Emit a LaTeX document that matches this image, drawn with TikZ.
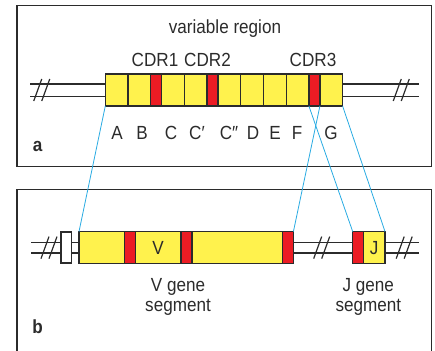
\documentclass[tikz,border=0pt]{standalone}
\usepackage{fontspec}
\setmainfont[FakeStretch=0.9]{Liberation Sans}
\usetikzlibrary{positioning}
\definecolor{genyellow}{HTML}{FFF24D}
\definecolor{cdrred}{HTML}{EC1C24}
\definecolor{linkblue}{HTML}{29ABE2}
\definecolor{ink}{HTML}{2B2B2B}
\newcommand{\breakmark}[2]{%
  \draw[cut] (#1-8,#2+11) -- (#1,#2-11);
  \draw[cut] (#1,#2+11) -- (#1+8,#2-11);}

\begin{document}
\begin{tikzpicture}[
  x=1pt, y=-1pt,
  every node/.style={font=\fontsize{19}{20}\selectfont, text=ink},
  panel/.style={draw=ink, line width=1.5pt, minimum width=414.5pt, inner sep=0pt, outer sep=0pt, anchor=north west},
  seg/.style={draw=ink, line width=1.3pt, fill=genyellow, minimum width=22.7pt, minimum height=32pt, inner sep=0pt, outer sep=0pt},
  cdr/.style={seg, fill=cdrred, minimum width=11pt},
  hinge/.style={seg, fill=white, minimum width=10.7pt, minimum height=31pt},
  wire/.style={draw=ink, line width=1.2pt},
  cut/.style={draw=ink, line width=1.2pt},
  link/.style={draw=linkblue, line width=0.8pt},
  tag/.style={font=\fontsize{19}{20}\selectfont\bfseries},
  twoline/.style={align=center, anchor=north, inner sep=0pt}
]
\useasboundingbox (0,0) rectangle (435,350);
\node[panel, minimum height=161pt] (pa) at (17,5.7) {};
\node[panel, minimum height=170pt] (pb) at (17,189.3) {};

\node[seg, anchor=west] (vA) at (105.3,90) {};
\node[seg, right=0pt of vA] (vB) {};
\node[cdr, right=0pt of vB] (cdrI) {};
\node[seg, right=0pt of cdrI] (vC) {};
\node[seg, right=0pt of vC] (vCp) {};
\node[cdr, right=0pt of vCp] (cdrII) {};
\node[seg, right=0pt of cdrII] (vCpp) {};
\node[seg, right=0pt of vCpp] (vD) {};
\node[seg, right=0pt of vD] (vE) {};
\node[seg, right=0pt of vE] (vF) {};
\node[cdr, right=0pt of vF] (cdrIII) {};
\node[seg, right=0pt of cdrIII] (vG) {};
\foreach \wy in {84,96.4} {
  \draw[wire] (30,\wy) -- (vA.west |- 0,\wy);
  \draw[wire] (vG.east |- 0,\wy) -- (419,\wy);
}
\breakmark{41.75}{90}
\breakmark{401.25}{90}

\node[anchor=base] (vreg) at (225,33.5) {variable region};
\node[anchor=base] (tCDRI) at (155,66.7) {CDR1};
\node[anchor=base] (tCDRII) at (207.5,66.7) {CDR2};
\node[anchor=base] (tCDRIII) at (313,66.7) {CDR3};
\node[anchor=base] (lA) at (117,139.3) {A};
\node[anchor=base] (lB) at (142,139.3) {B};
\node[anchor=base] (lC) at (171,139.3) {C};
\node[anchor=base] (lCp) at (197,139.3) {C′};
\node[anchor=base] (lCpp) at (229,139.3) {C″};
\node[anchor=base] (lD) at (253,139.3) {D};
\node[anchor=base] (lE) at (275,139.3) {E};
\node[anchor=base] (lF) at (297,139.3) {F};
\node[anchor=base] (lG) at (331,139.3) {G};
\node[tag, anchor=base] (ta) at (37.7,151.7) {a};

\node[hinge, anchor=west] (wb) at (61,247.6) {};
\node[seg, minimum width=45.3pt, anchor=west] (gVa) at (79,247.6) {};
\node[cdr, right=0pt of gVa] (gRa) {};
\node[seg, minimum width=45.7pt, right=0pt of gRa] (gVb) {V};
\node[cdr, right=0pt of gVb] (gRb) {};
\node[seg, minimum width=90.7pt, right=0pt of gRb] (gVc) {};
\node[cdr, minimum width=10.7pt, right=0pt of gVc] (gRc) {};
\node[cdr, minimum width=10.6pt, anchor=west] (jR) at (352.7,247.6) {};
\node[seg, minimum width=21.7pt, right=0pt of jR] (jY) {J};
\foreach \wy in {242.5,253} {
  \draw[wire] (31,\wy) -- (wb.west |- 0,\wy);
  \draw[wire] (wb.east |- 0,\wy) -- (gVa.west |- 0,\wy);
  \draw[wire] (gRc.east |- 0,\wy) -- (jR.west |- 0,\wy);
  \draw[wire] (jY.east |- 0,\wy) -- (419.3,\wy);
}
\breakmark{49}{247.6}
\breakmark{321.7}{247.6}
\breakmark{404.2}{247.6}

\node[twoline] (vgene) at (178,278) {V gene\\segment};
\node[twoline] (jgene) at (368.3,278) {J gene\\segment};
\node[tag, anchor=base] (tb) at (37.7,333.3) {b};

\draw[link] (vA.south west) -- (gVa.north west);
\draw[link] (cdrIII.south west) -- (jR.north west);
\draw[link] (cdrIII.south east) -- (gRc.north east);
\draw[link] (vG.south east) -- (jY.north east);
\end{tikzpicture}
\end{document}
